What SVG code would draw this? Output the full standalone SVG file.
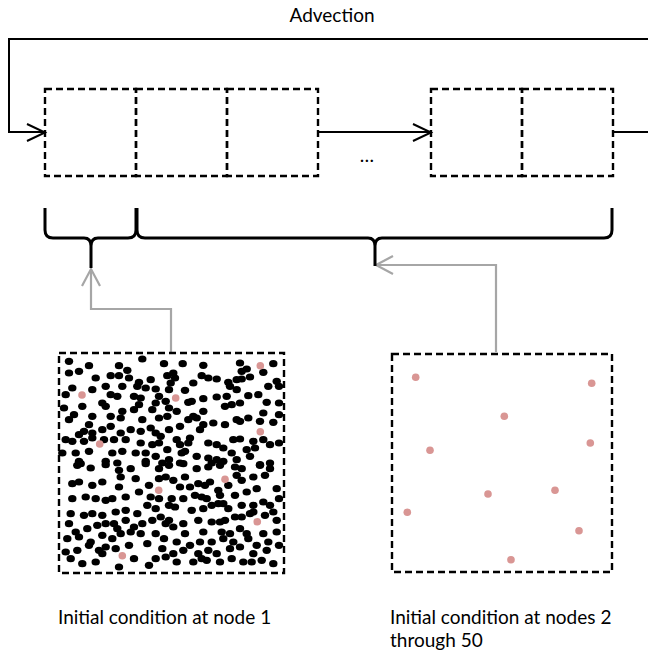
<svg xmlns="http://www.w3.org/2000/svg" width="648" height="657" viewBox="0 0 648 657">
<style>
text{font-family:Lato,"Open Sans","Liberation Sans",sans-serif;font-size:19px;fill:#000}
.node{fill:none;stroke:#000;stroke-width:2.4;stroke-dasharray:7,4}
.ln{fill:none;stroke:#000;stroke-width:2}
.br{fill:none;stroke:#000;stroke-width:3}
.gr{fill:none;stroke:#a6a6a6;stroke-width:2.2}
.d ellipse{fill:#000}
.p circle{fill:#d99694}
</style>
<rect width="648" height="657" fill="#fff"/>
<text x="332" y="22" text-anchor="middle">Advection</text>
<g id="node1"><rect class="node" x="45" y="89" width="91" height="87"/></g>
<g id="node2"><rect class="node" x="136" y="89" width="91" height="87"/></g>
<g id="node3"><rect class="node" x="227" y="89" width="91" height="87"/></g>
<g id="node49"><rect class="node" x="431" y="89" width="91" height="87"/></g>
<g id="node50"><rect class="node" x="522" y="89" width="91" height="87"/></g>
<text x="367" y="162" text-anchor="middle">…</text>
<g id="connectors">
<path class="ln" d="M648,39 H9 V132 H45"/>
<path class="ln" d="M27,124 L45,132.5 L27,141"/>
<path class="ln" d="M318,132 H431"/>
<path class="ln" d="M413,124 L431,132.5 L413,141"/>
<path class="ln" d="M613,132 H648"/>
<path class="gr" d="M171,352 V309 H91 V270"/>
<path class="gr" d="M82,286 L91,269 L100,286"/>
<path class="gr" d="M496,352 V265 H377"/>
<path class="gr" d="M393,256 L376,265 L393,274"/>
</g>
<g id="brace1"><path class="br" d="M45,208 V230 Q45,238 53,238 H84 Q91,238 91,246 V268 M91,246 Q91,238 98,238 H128 Q136,238 136,230 V208"/></g>
<g id="brace2"><path class="br" d="M137,208 V230 Q137,238 145,238 H368 Q375,238 375,246 V266 M375,246 Q375,238 382,238 H604 Q612,238 612,230 V208"/></g>
<g id="ic1">
<rect class="node" x="59" y="353" width="225" height="220"/>
<g class="d">
<ellipse cx="69" cy="361.3" rx="4.2" ry="3.6"/><ellipse cx="89" cy="365.7" rx="4.2" ry="3.6"/><ellipse cx="119" cy="365.7" rx="4.2" ry="3.6"/><ellipse cx="142.3" cy="359" rx="4.2" ry="3.6"/><ellipse cx="164" cy="363.7" rx="4.2" ry="3.6"/><ellipse cx="69" cy="373" rx="4.2" ry="3.6"/><ellipse cx="79" cy="371.3" rx="4.2" ry="3.6"/><ellipse cx="95.7" cy="378" rx="4.2" ry="3.6"/><ellipse cx="110.7" cy="375.7" rx="4.2" ry="3.6"/><ellipse cx="119" cy="375.7" rx="4.2" ry="3.6"/><ellipse cx="127.3" cy="370.3" rx="4.2" ry="3.6"/><ellipse cx="129" cy="378" rx="4.2" ry="3.6"/><ellipse cx="150.7" cy="379.7" rx="4.2" ry="3.6"/><ellipse cx="167.3" cy="375.7" rx="4.2" ry="3.6"/><ellipse cx="170.7" cy="383" rx="4.2" ry="3.6"/><ellipse cx="139" cy="382.3" rx="4.2" ry="3.6"/><ellipse cx="137.3" cy="386.3" rx="4.2" ry="3.6"/><ellipse cx="122.3" cy="386.3" rx="4.2" ry="3.6"/><ellipse cx="105.7" cy="386.3" rx="4.2" ry="3.6"/><ellipse cx="92.3" cy="389.7" rx="4.2" ry="3.6"/><ellipse cx="72.3" cy="388" rx="4.2" ry="3.6"/><ellipse cx="65.7" cy="394.7" rx="4.2" ry="3.6"/><ellipse cx="145.7" cy="388" rx="4.2" ry="3.6"/><ellipse cx="155.7" cy="389" rx="4.2" ry="3.6"/><ellipse cx="159" cy="396.3" rx="4.2" ry="3.6"/><ellipse cx="169" cy="389.7" rx="4.2" ry="3.6"/><ellipse cx="110.7" cy="394.7" rx="4.2" ry="3.6"/><ellipse cx="117.3" cy="396.3" rx="4.2" ry="3.6"/><ellipse cx="134" cy="396.3" rx="4.2" ry="3.6"/><ellipse cx="140.7" cy="398" rx="4.2" ry="3.6"/><ellipse cx="102.3" cy="403" rx="4.2" ry="3.6"/><ellipse cx="105.7" cy="406.3" rx="4.2" ry="3.6"/><ellipse cx="82.3" cy="406.3" rx="4.2" ry="3.6"/><ellipse cx="64" cy="408" rx="4.2" ry="3.6"/><ellipse cx="122.3" cy="411.3" rx="4.2" ry="3.6"/><ellipse cx="139" cy="404.7" rx="4.2" ry="3.6"/><ellipse cx="134" cy="409.7" rx="4.2" ry="3.6"/><ellipse cx="155.7" cy="403" rx="4.2" ry="3.6"/><ellipse cx="165.7" cy="401.3" rx="4.2" ry="3.6"/><ellipse cx="152.3" cy="409.7" rx="4.2" ry="3.6"/><ellipse cx="169" cy="408" rx="4.2" ry="3.6"/><ellipse cx="74" cy="414.7" rx="4.2" ry="3.6"/><ellipse cx="69" cy="419.7" rx="4.2" ry="3.6"/><ellipse cx="92.3" cy="416.3" rx="4.2" ry="3.6"/><ellipse cx="120.7" cy="418" rx="4.2" ry="3.6"/><ellipse cx="110.7" cy="416.3" rx="4.2" ry="3.6"/><ellipse cx="167.3" cy="416.3" rx="4.2" ry="3.6"/><ellipse cx="142.3" cy="419.7" rx="4.2" ry="3.6"/><ellipse cx="159" cy="418" rx="4.2" ry="3.6"/><ellipse cx="89" cy="424.7" rx="4.2" ry="3.6"/><ellipse cx="84" cy="431.3" rx="4.2" ry="3.6"/><ellipse cx="79" cy="434.7" rx="4.2" ry="3.6"/><ellipse cx="92.3" cy="433" rx="4.2" ry="3.6"/><ellipse cx="102.3" cy="429.7" rx="4.2" ry="3.6"/><ellipse cx="110.7" cy="426.3" rx="4.2" ry="3.6"/><ellipse cx="120.7" cy="433" rx="4.2" ry="3.6"/><ellipse cx="130.7" cy="429.7" rx="4.2" ry="3.6"/><ellipse cx="140.7" cy="431.3" rx="4.2" ry="3.6"/><ellipse cx="150.7" cy="428" rx="4.2" ry="3.6"/><ellipse cx="155.7" cy="433" rx="4.2" ry="3.6"/><ellipse cx="160.7" cy="436.3" rx="4.2" ry="3.6"/><ellipse cx="169" cy="429.7" rx="4.2" ry="3.6"/><ellipse cx="65.7" cy="439.7" rx="4.2" ry="3.6"/><ellipse cx="72.3" cy="441.3" rx="4.2" ry="3.6"/><ellipse cx="84" cy="441.3" rx="4.2" ry="3.6"/><ellipse cx="92.3" cy="438" rx="4.2" ry="3.6"/><ellipse cx="104" cy="439.7" rx="4.2" ry="3.6"/><ellipse cx="114" cy="439.7" rx="4.2" ry="3.6"/><ellipse cx="125.7" cy="439.7" rx="4.2" ry="3.6"/><ellipse cx="140.7" cy="443" rx="4.2" ry="3.6"/><ellipse cx="152.3" cy="444.7" rx="4.2" ry="3.6"/><ellipse cx="159" cy="443" rx="4.2" ry="3.6"/><ellipse cx="167.3" cy="449.7" rx="4.2" ry="3.6"/><ellipse cx="62.3" cy="453" rx="4.2" ry="3.6"/><ellipse cx="75.7" cy="453" rx="4.2" ry="3.6"/><ellipse cx="89" cy="451.3" rx="4.2" ry="3.6"/><ellipse cx="112.3" cy="453" rx="4.2" ry="3.6"/><ellipse cx="122.3" cy="451.3" rx="4.2" ry="3.6"/><ellipse cx="135.7" cy="453" rx="4.2" ry="3.6"/><ellipse cx="145.7" cy="453" rx="4.2" ry="3.6"/><ellipse cx="155.7" cy="456.3" rx="4.2" ry="3.6"/><ellipse cx="169" cy="459.7" rx="4.2" ry="3.6"/><ellipse cx="79" cy="461.3" rx="4.2" ry="3.6"/><ellipse cx="105.7" cy="461.3" rx="4.2" ry="3.6"/><ellipse cx="117.3" cy="463" rx="4.2" ry="3.6"/><ellipse cx="145.7" cy="461.3" rx="4.2" ry="3.6"/><ellipse cx="162.3" cy="463" rx="4.2" ry="3.6"/>
<ellipse cx="182.7" cy="363.7" rx="4.2" ry="3.6"/><ellipse cx="203.3" cy="365.3" rx="4.2" ry="3.6"/><ellipse cx="173.3" cy="373" rx="4.2" ry="3.6"/><ellipse cx="240" cy="363" rx="4.2" ry="3.6"/><ellipse cx="246.7" cy="369" rx="4.2" ry="3.6"/><ellipse cx="241.7" cy="371.3" rx="4.2" ry="3.6"/><ellipse cx="201.7" cy="375.7" rx="4.2" ry="3.6"/><ellipse cx="208.3" cy="378" rx="4.2" ry="3.6"/><ellipse cx="216.7" cy="379" rx="4.2" ry="3.6"/><ellipse cx="228.3" cy="382.3" rx="4.2" ry="3.6"/><ellipse cx="236.7" cy="379.7" rx="4.2" ry="3.6"/><ellipse cx="241.7" cy="379" rx="4.2" ry="3.6"/><ellipse cx="250" cy="377" rx="4.2" ry="3.6"/><ellipse cx="263.3" cy="372.3" rx="4.2" ry="3.6"/><ellipse cx="273.3" cy="363.7" rx="4.2" ry="3.6"/><ellipse cx="276.7" cy="381.3" rx="4.2" ry="3.6"/><ellipse cx="279" cy="386.3" rx="4.2" ry="3.6"/><ellipse cx="268.3" cy="386.3" rx="4.2" ry="3.6"/><ellipse cx="258.3" cy="394.7" rx="4.2" ry="3.6"/><ellipse cx="248.3" cy="395.7" rx="4.2" ry="3.6"/><ellipse cx="236.7" cy="389.7" rx="4.2" ry="3.6"/><ellipse cx="230" cy="386.3" rx="4.2" ry="3.6"/><ellipse cx="226.7" cy="396.3" rx="4.2" ry="3.6"/><ellipse cx="216.7" cy="397" rx="4.2" ry="3.6"/><ellipse cx="203.3" cy="398.7" rx="4.2" ry="3.6"/><ellipse cx="188.3" cy="402.3" rx="4.2" ry="3.6"/><ellipse cx="191.7" cy="401.3" rx="4.2" ry="3.6"/><ellipse cx="193.3" cy="383" rx="4.2" ry="3.6"/><ellipse cx="185" cy="390.3" rx="4.2" ry="3.6"/><ellipse cx="175" cy="378" rx="4.2" ry="3.6"/><ellipse cx="176.7" cy="411.3" rx="4.2" ry="3.6"/><ellipse cx="193.3" cy="416.3" rx="4.2" ry="3.6"/><ellipse cx="203.3" cy="411.3" rx="4.2" ry="3.6"/><ellipse cx="231.7" cy="404.7" rx="4.2" ry="3.6"/><ellipse cx="240" cy="403" rx="4.2" ry="3.6"/><ellipse cx="225" cy="406.3" rx="4.2" ry="3.6"/><ellipse cx="266.7" cy="402.3" rx="4.2" ry="3.6"/><ellipse cx="279" cy="403" rx="4.2" ry="3.6"/><ellipse cx="263.3" cy="413" rx="4.2" ry="3.6"/><ellipse cx="260" cy="421.3" rx="4.2" ry="3.6"/><ellipse cx="273.3" cy="422.3" rx="4.2" ry="3.6"/><ellipse cx="279" cy="414.7" rx="4.2" ry="3.6"/><ellipse cx="248.3" cy="418" rx="4.2" ry="3.6"/><ellipse cx="236.7" cy="419.7" rx="4.2" ry="3.6"/><ellipse cx="240" cy="421.3" rx="4.2" ry="3.6"/><ellipse cx="225" cy="424.7" rx="4.2" ry="3.6"/><ellipse cx="213.3" cy="423" rx="4.2" ry="3.6"/><ellipse cx="203.3" cy="424.7" rx="4.2" ry="3.6"/><ellipse cx="196.7" cy="418" rx="4.2" ry="3.6"/><ellipse cx="188.3" cy="419.7" rx="4.2" ry="3.6"/><ellipse cx="180" cy="426.3" rx="4.2" ry="3.6"/><ellipse cx="200" cy="429.7" rx="4.2" ry="3.6"/><ellipse cx="190" cy="438" rx="4.2" ry="3.6"/><ellipse cx="176.7" cy="439.7" rx="4.2" ry="3.6"/><ellipse cx="180" cy="444.7" rx="4.2" ry="3.6"/><ellipse cx="188.3" cy="443" rx="4.2" ry="3.6"/><ellipse cx="208.3" cy="443" rx="4.2" ry="3.6"/><ellipse cx="216.7" cy="444.7" rx="4.2" ry="3.6"/><ellipse cx="223.3" cy="448" rx="4.2" ry="3.6"/><ellipse cx="233.3" cy="439.7" rx="4.2" ry="3.6"/><ellipse cx="240" cy="439" rx="4.2" ry="3.6"/><ellipse cx="253.3" cy="441.3" rx="4.2" ry="3.6"/><ellipse cx="263.3" cy="439.7" rx="4.2" ry="3.6"/><ellipse cx="270" cy="444.7" rx="4.2" ry="3.6"/><ellipse cx="255" cy="448" rx="4.2" ry="3.6"/><ellipse cx="279" cy="443" rx="4.2" ry="3.6"/><ellipse cx="181.7" cy="453" rx="4.2" ry="3.6"/><ellipse cx="185" cy="451.3" rx="4.2" ry="3.6"/><ellipse cx="196.7" cy="456.3" rx="4.2" ry="3.6"/><ellipse cx="208.3" cy="458" rx="4.2" ry="3.6"/><ellipse cx="216.7" cy="459.7" rx="4.2" ry="3.6"/><ellipse cx="231.7" cy="453" rx="4.2" ry="3.6"/><ellipse cx="246.7" cy="449.7" rx="4.2" ry="3.6"/><ellipse cx="250" cy="456.3" rx="4.2" ry="3.6"/><ellipse cx="180" cy="463" rx="4.2" ry="3.6"/><ellipse cx="211.7" cy="463" rx="4.2" ry="3.6"/><ellipse cx="223.3" cy="461.3" rx="4.2" ry="3.6"/><ellipse cx="236.7" cy="459.7" rx="4.2" ry="3.6"/><ellipse cx="260" cy="464.7" rx="4.2" ry="3.6"/><ellipse cx="270" cy="463" rx="4.2" ry="3.6"/>
<ellipse cx="77.3" cy="465.3" rx="4.2" ry="3.6"/><ellipse cx="80.7" cy="463.7" rx="4.2" ry="3.6"/><ellipse cx="90.7" cy="468" rx="4.2" ry="3.6"/><ellipse cx="105.7" cy="464.7" rx="4.2" ry="3.6"/><ellipse cx="119" cy="470.3" rx="4.2" ry="3.6"/><ellipse cx="130.7" cy="468.7" rx="4.2" ry="3.6"/><ellipse cx="145.7" cy="463.7" rx="4.2" ry="3.6"/><ellipse cx="159" cy="468.7" rx="4.2" ry="3.6"/><ellipse cx="169" cy="465.3" rx="4.2" ry="3.6"/><ellipse cx="72.3" cy="483.7" rx="4.2" ry="3.6"/><ellipse cx="79" cy="482" rx="4.2" ry="3.6"/><ellipse cx="92.3" cy="485.3" rx="4.2" ry="3.6"/><ellipse cx="102.3" cy="482" rx="4.2" ry="3.6"/><ellipse cx="119" cy="487" rx="4.2" ry="3.6"/><ellipse cx="120.7" cy="477" rx="4.2" ry="3.6"/><ellipse cx="135.7" cy="478.7" rx="4.2" ry="3.6"/><ellipse cx="149" cy="485.3" rx="4.2" ry="3.6"/><ellipse cx="159" cy="478.7" rx="4.2" ry="3.6"/><ellipse cx="165.7" cy="477" rx="4.2" ry="3.6"/><ellipse cx="72.3" cy="498.7" rx="4.2" ry="3.6"/><ellipse cx="85.7" cy="497" rx="4.2" ry="3.6"/><ellipse cx="95.7" cy="498.7" rx="4.2" ry="3.6"/><ellipse cx="105.7" cy="500.3" rx="4.2" ry="3.6"/><ellipse cx="112.3" cy="498.7" rx="4.2" ry="3.6"/><ellipse cx="125.7" cy="497" rx="4.2" ry="3.6"/><ellipse cx="139" cy="492" rx="4.2" ry="3.6"/><ellipse cx="150.7" cy="497" rx="4.2" ry="3.6"/><ellipse cx="159" cy="498.7" rx="4.2" ry="3.6"/><ellipse cx="169" cy="505.3" rx="4.2" ry="3.6"/><ellipse cx="70.7" cy="513.7" rx="4.2" ry="3.6"/><ellipse cx="84" cy="515.3" rx="4.2" ry="3.6"/><ellipse cx="92.3" cy="513.7" rx="4.2" ry="3.6"/><ellipse cx="102.3" cy="515.3" rx="4.2" ry="3.6"/><ellipse cx="115.7" cy="512" rx="4.2" ry="3.6"/><ellipse cx="125.7" cy="510.3" rx="4.2" ry="3.6"/><ellipse cx="137.3" cy="513.7" rx="4.2" ry="3.6"/><ellipse cx="147.3" cy="505.3" rx="4.2" ry="3.6"/><ellipse cx="155.7" cy="508.7" rx="4.2" ry="3.6"/><ellipse cx="160.7" cy="517" rx="4.2" ry="3.6"/><ellipse cx="169" cy="520.3" rx="4.2" ry="3.6"/><ellipse cx="69" cy="523.7" rx="4.2" ry="3.6"/><ellipse cx="75.7" cy="532" rx="4.2" ry="3.6"/><ellipse cx="87.3" cy="528.7" rx="4.2" ry="3.6"/><ellipse cx="97.3" cy="525.3" rx="4.2" ry="3.6"/><ellipse cx="105.7" cy="523.7" rx="4.2" ry="3.6"/><ellipse cx="114" cy="523.7" rx="4.2" ry="3.6"/><ellipse cx="117.3" cy="528.7" rx="4.2" ry="3.6"/><ellipse cx="125.7" cy="520.3" rx="4.2" ry="3.6"/><ellipse cx="134" cy="527" rx="4.2" ry="3.6"/><ellipse cx="142.3" cy="523.7" rx="4.2" ry="3.6"/><ellipse cx="152.3" cy="520.3" rx="4.2" ry="3.6"/><ellipse cx="165.7" cy="523.7" rx="4.2" ry="3.6"/><ellipse cx="67.3" cy="538.7" rx="4.2" ry="3.6"/><ellipse cx="79" cy="537" rx="4.2" ry="3.6"/><ellipse cx="90.7" cy="542" rx="4.2" ry="3.6"/><ellipse cx="102.3" cy="535.3" rx="4.2" ry="3.6"/><ellipse cx="112.3" cy="538.7" rx="4.2" ry="3.6"/><ellipse cx="120.7" cy="533.7" rx="4.2" ry="3.6"/><ellipse cx="130.7" cy="532" rx="4.2" ry="3.6"/><ellipse cx="140.7" cy="533.7" rx="4.2" ry="3.6"/><ellipse cx="155.7" cy="533.7" rx="4.2" ry="3.6"/><ellipse cx="164" cy="538.7" rx="4.2" ry="3.6"/><ellipse cx="65.7" cy="552" rx="4.2" ry="3.6"/><ellipse cx="77.3" cy="550.3" rx="4.2" ry="3.6"/><ellipse cx="89" cy="545.3" rx="4.2" ry="3.6"/><ellipse cx="99" cy="550.3" rx="4.2" ry="3.6"/><ellipse cx="105.7" cy="547" rx="4.2" ry="3.6"/><ellipse cx="115.7" cy="548.7" rx="4.2" ry="3.6"/><ellipse cx="129" cy="545.3" rx="4.2" ry="3.6"/><ellipse cx="147.3" cy="543.7" rx="4.2" ry="3.6"/><ellipse cx="162.3" cy="548.7" rx="4.2" ry="3.6"/><ellipse cx="70.7" cy="558.7" rx="4.2" ry="3.6"/><ellipse cx="82.3" cy="563.7" rx="4.2" ry="3.6"/><ellipse cx="95.7" cy="562" rx="4.2" ry="3.6"/><ellipse cx="102.3" cy="553.7" rx="4.2" ry="3.6"/><ellipse cx="119" cy="567" rx="4.2" ry="3.6"/><ellipse cx="134" cy="558.7" rx="4.2" ry="3.6"/><ellipse cx="149" cy="565.3" rx="4.2" ry="3.6"/><ellipse cx="155.7" cy="558.7" rx="4.2" ry="3.6"/><ellipse cx="165.7" cy="557" rx="4.2" ry="3.6"/>
<ellipse cx="183.3" cy="463.7" rx="4.2" ry="3.6"/><ellipse cx="196.7" cy="468.7" rx="4.2" ry="3.6"/><ellipse cx="208.3" cy="467" rx="4.2" ry="3.6"/><ellipse cx="220" cy="465.3" rx="4.2" ry="3.6"/><ellipse cx="235" cy="467" rx="4.2" ry="3.6"/><ellipse cx="241.7" cy="468.7" rx="4.2" ry="3.6"/><ellipse cx="260" cy="465.3" rx="4.2" ry="3.6"/><ellipse cx="270" cy="468.7" rx="4.2" ry="3.6"/><ellipse cx="173.3" cy="480.3" rx="4.2" ry="3.6"/><ellipse cx="185" cy="477" rx="4.2" ry="3.6"/><ellipse cx="180" cy="487" rx="4.2" ry="3.6"/><ellipse cx="190" cy="487" rx="4.2" ry="3.6"/><ellipse cx="198.3" cy="483.7" rx="4.2" ry="3.6"/><ellipse cx="205" cy="485.3" rx="4.2" ry="3.6"/><ellipse cx="210" cy="482" rx="4.2" ry="3.6"/><ellipse cx="218.3" cy="490.3" rx="4.2" ry="3.6"/><ellipse cx="228.3" cy="485.3" rx="4.2" ry="3.6"/><ellipse cx="236.7" cy="475.3" rx="4.2" ry="3.6"/><ellipse cx="241.7" cy="480.3" rx="4.2" ry="3.6"/><ellipse cx="253.3" cy="477" rx="4.2" ry="3.6"/><ellipse cx="265" cy="475.3" rx="4.2" ry="3.6"/><ellipse cx="276.7" cy="488.7" rx="4.2" ry="3.6"/><ellipse cx="171.7" cy="498.7" rx="4.2" ry="3.6"/><ellipse cx="183.3" cy="498.7" rx="4.2" ry="3.6"/><ellipse cx="195" cy="495.3" rx="4.2" ry="3.6"/><ellipse cx="201.7" cy="497" rx="4.2" ry="3.6"/><ellipse cx="206.7" cy="498.7" rx="4.2" ry="3.6"/><ellipse cx="220" cy="495.3" rx="4.2" ry="3.6"/><ellipse cx="235" cy="495.3" rx="4.2" ry="3.6"/><ellipse cx="246.7" cy="492" rx="4.2" ry="3.6"/><ellipse cx="256.7" cy="488.7" rx="4.2" ry="3.6"/><ellipse cx="263.3" cy="502" rx="4.2" ry="3.6"/><ellipse cx="270" cy="505.3" rx="4.2" ry="3.6"/><ellipse cx="279" cy="498.7" rx="4.2" ry="3.6"/><ellipse cx="175" cy="507" rx="4.2" ry="3.6"/><ellipse cx="191.7" cy="510.3" rx="4.2" ry="3.6"/><ellipse cx="203.3" cy="508.7" rx="4.2" ry="3.6"/><ellipse cx="211.7" cy="505.3" rx="4.2" ry="3.6"/><ellipse cx="218.3" cy="503.7" rx="4.2" ry="3.6"/><ellipse cx="223.3" cy="503.7" rx="4.2" ry="3.6"/><ellipse cx="228.3" cy="508.7" rx="4.2" ry="3.6"/><ellipse cx="241.7" cy="505.3" rx="4.2" ry="3.6"/><ellipse cx="253.3" cy="505.3" rx="4.2" ry="3.6"/><ellipse cx="253.3" cy="512" rx="4.2" ry="3.6"/><ellipse cx="273.3" cy="512" rx="4.2" ry="3.6"/><ellipse cx="183.3" cy="523.7" rx="4.2" ry="3.6"/><ellipse cx="198.3" cy="520.3" rx="4.2" ry="3.6"/><ellipse cx="211.7" cy="522" rx="4.2" ry="3.6"/><ellipse cx="220" cy="522" rx="4.2" ry="3.6"/><ellipse cx="225" cy="520.3" rx="4.2" ry="3.6"/><ellipse cx="235" cy="517" rx="4.2" ry="3.6"/><ellipse cx="241.7" cy="517" rx="4.2" ry="3.6"/><ellipse cx="250" cy="513.7" rx="4.2" ry="3.6"/><ellipse cx="265" cy="515.3" rx="4.2" ry="3.6"/><ellipse cx="276.7" cy="520.3" rx="4.2" ry="3.6"/><ellipse cx="173.3" cy="527" rx="4.2" ry="3.6"/><ellipse cx="185" cy="533.7" rx="4.2" ry="3.6"/><ellipse cx="203.3" cy="532" rx="4.2" ry="3.6"/><ellipse cx="221.7" cy="532" rx="4.2" ry="3.6"/><ellipse cx="230" cy="533.7" rx="4.2" ry="3.6"/><ellipse cx="240" cy="528.7" rx="4.2" ry="3.6"/><ellipse cx="246.7" cy="533.7" rx="4.2" ry="3.6"/><ellipse cx="263.3" cy="533.7" rx="4.2" ry="3.6"/><ellipse cx="276.7" cy="532" rx="4.2" ry="3.6"/><ellipse cx="176.7" cy="542" rx="4.2" ry="3.6"/><ellipse cx="190" cy="545.3" rx="4.2" ry="3.6"/><ellipse cx="200" cy="542" rx="4.2" ry="3.6"/><ellipse cx="211.7" cy="542" rx="4.2" ry="3.6"/><ellipse cx="223.3" cy="538.7" rx="4.2" ry="3.6"/><ellipse cx="233.3" cy="542" rx="4.2" ry="3.6"/><ellipse cx="248.3" cy="538.7" rx="4.2" ry="3.6"/><ellipse cx="256.7" cy="545.3" rx="4.2" ry="3.6"/><ellipse cx="268.3" cy="542" rx="4.2" ry="3.6"/><ellipse cx="173.3" cy="553.7" rx="4.2" ry="3.6"/><ellipse cx="183.3" cy="550.3" rx="4.2" ry="3.6"/><ellipse cx="198.3" cy="553.7" rx="4.2" ry="3.6"/><ellipse cx="208.3" cy="550.3" rx="4.2" ry="3.6"/><ellipse cx="216.7" cy="553.7" rx="4.2" ry="3.6"/><ellipse cx="230" cy="548.7" rx="4.2" ry="3.6"/><ellipse cx="240" cy="547" rx="4.2" ry="3.6"/><ellipse cx="253.3" cy="553.7" rx="4.2" ry="3.6"/><ellipse cx="266.7" cy="550.3" rx="4.2" ry="3.6"/><ellipse cx="279" cy="545.3" rx="4.2" ry="3.6"/><ellipse cx="176.7" cy="562" rx="4.2" ry="3.6"/><ellipse cx="193.3" cy="562" rx="4.2" ry="3.6"/><ellipse cx="201.7" cy="558.7" rx="4.2" ry="3.6"/><ellipse cx="206.7" cy="560.3" rx="4.2" ry="3.6"/><ellipse cx="220" cy="562" rx="4.2" ry="3.6"/><ellipse cx="231.7" cy="558.7" rx="4.2" ry="3.6"/><ellipse cx="243.3" cy="562" rx="4.2" ry="3.6"/><ellipse cx="251.7" cy="562" rx="4.2" ry="3.6"/><ellipse cx="261.7" cy="560.3" rx="4.2" ry="3.6"/><ellipse cx="273.3" cy="563.7" rx="4.2" ry="3.6"/>
</g>
<g class="p">
<circle cx="260.3" cy="365.7" r="3.8"/><circle cx="82" cy="395" r="3.8"/><circle cx="175.7" cy="398" r="3.8"/><circle cx="260.3" cy="431.7" r="3.8"/><circle cx="99.7" cy="444" r="3.8"/><circle cx="225" cy="479.3" r="3.8"/><circle cx="158.7" cy="490.3" r="3.8"/><circle cx="257.3" cy="521.7" r="3.8"/><circle cx="122.3" cy="555.7" r="3.8"/>
</g>
</g>
<g id="ic2">
<rect class="node" x="392" y="354" width="220" height="218"/>
<g class="p">
<circle cx="415.7" cy="377.3" r="3.8"/><circle cx="591.7" cy="383.3" r="3.8"/><circle cx="504.3" cy="416.3" r="3.8"/><circle cx="590.3" cy="443" r="3.8"/><circle cx="430" cy="450.3" r="3.8"/><circle cx="488" cy="494" r="3.8"/><circle cx="555" cy="490.3" r="3.8"/><circle cx="407.3" cy="512.3" r="3.8"/><circle cx="579" cy="530.7" r="3.8"/><circle cx="511" cy="559.7" r="3.8"/>
</g>
</g>
<text x="58" y="624">Initial condition at node 1</text>
<text x="390" y="624">Initial condition at nodes 2</text>
<text x="390" y="647">through 50</text>
</svg>
